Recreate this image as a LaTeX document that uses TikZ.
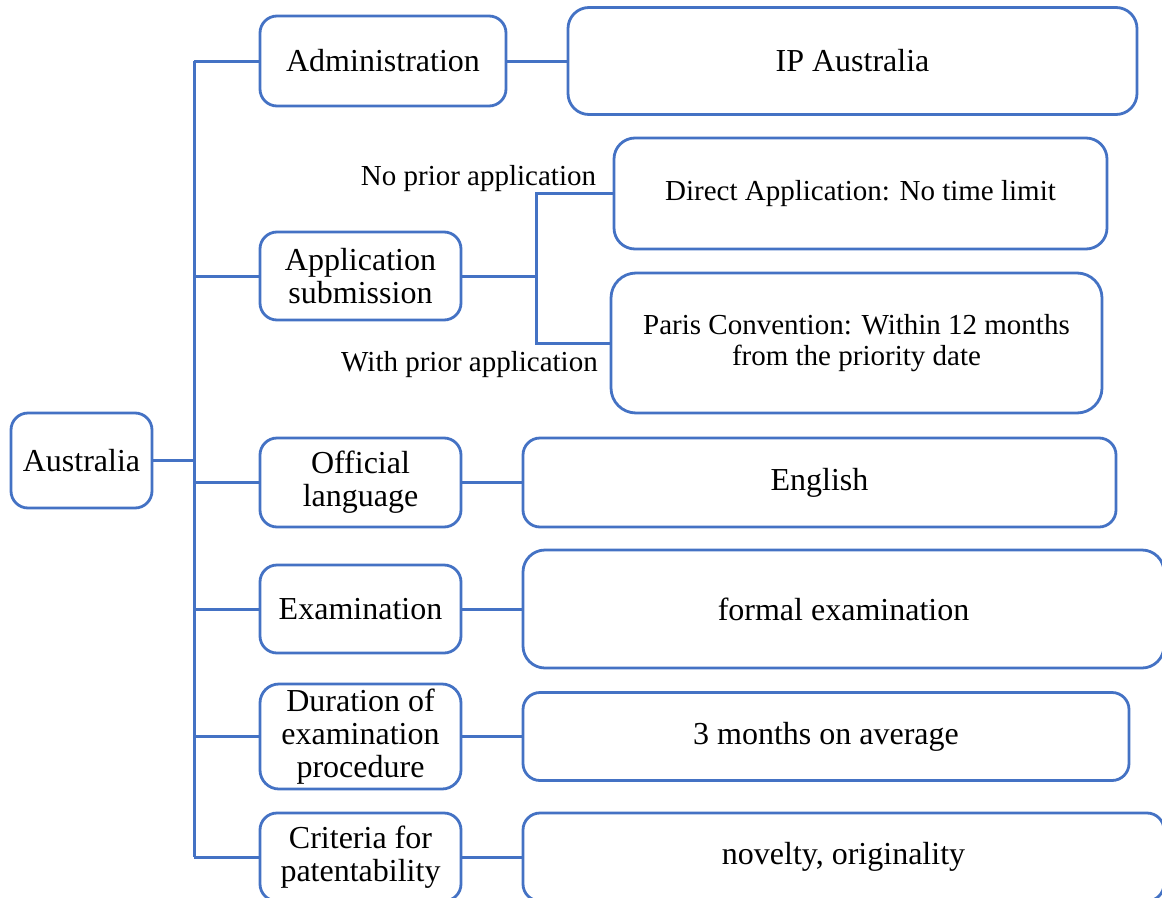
\documentclass[tikz,border=0pt]{standalone}
\usepackage{fontspec}
\setmainfont{Liberation Serif}
\usepackage{xcolor}

\begin{document}
\begin{tikzpicture}[x=1pt,y=-1pt,
  topicbox/.style={draw=officeblue,line width=2.8pt,rounded corners=17pt,fill=white,
    inner sep=0pt,align=center,font=\fontsize{32}{33}\selectfont},
  detailbox/.style={topicbox,font=\fontsize{29}{31}\selectfont},
  link/.style={draw=officeblue,line width=3pt}]
\definecolor{officeblue}{HTML}{4472C4}
\useasboundingbox (0,0) rectangle (1162,897);
% root and first level
\node [topicbox,minimum width=141,minimum height=95] (aus) at (81.5,460.5) {Australia};
\node [topicbox,minimum width=246,minimum height=90] (admin) at (383,61) {Administration};
\node [topicbox,minimum width=201,minimum height=88] (appsub) at (360.5,276) {Application\\submission};
\node [topicbox,minimum width=201,minimum height=89] (lang) at (360.5,482.5) {Official\\language};
\node [topicbox,minimum width=201,minimum height=88] (exam) at (360.5,609) {Examination};
\node [topicbox,minimum width=201,minimum height=105,rounded corners=19pt] (dur) at (360.5,736.5) {Duration of\\examination\\procedure};
\node [topicbox,minimum width=201,minimum height=88] (crit) at (360.5,857) {Criteria for\\patentability};
% second level
\node [topicbox,minimum width=569,minimum height=107,rounded corners=21pt] (ip) at (852.5,61) {IP Australia};
\node [detailbox,minimum width=493,minimum height=111,rounded corners=21pt] (direct) at (860.5,193.5) {Direct Application: No time limit};
\node [detailbox,minimum width=491,minimum height=140,rounded corners=25pt] (paris) at (856.5,343) {Paris Convention: Within 12 months\\from the priority date};
\node [topicbox,minimum width=593,minimum height=89] (english) at (819.5,482.5) {English};
\node [topicbox,minimum width=641,minimum height=118,rounded corners=22pt] (formal) at (843.5,609) {formal examination};
\node [topicbox,minimum width=606,minimum height=88] (months) at (826,736.5) {3 months on average};
\node [topicbox,minimum width=641,minimum height=88] (novelty) at (843.5,857) {novelty, originality};
% branch labels
\node [font=\fontsize{29}{31}\selectfont,anchor=base] (noprior) at (478.5,185) {No prior application};
\node [font=\fontsize{29}{31}\selectfont,anchor=base] (withprior) at (469.5,371) {With prior application};
% connectors
\coordinate (spine) at (194,460.5);
\coordinate (fork) at (536,276);
\draw [link] (aus.east) -- (spine);
\draw [link] (spine |- admin.west) -- (spine |- crit.west);
\foreach \kid in {admin,appsub,lang,exam,dur,crit}
  {\draw [link] (spine |- \kid.west) -- (\kid.west);}
\draw [link] (admin.east) -- (admin.east -| ip.west);
\draw [link] (appsub.east) -- (fork) |- (direct.west);
\draw [link] (fork) |- (paris.west);
\draw [link] (lang.east) -- (english.west);
\draw [link] (exam.east) -- (formal.west);
\draw [link] (dur.east) -- (months.west);
\draw [link] (crit.east) -- (novelty.west);
\end{tikzpicture}
\end{document}
